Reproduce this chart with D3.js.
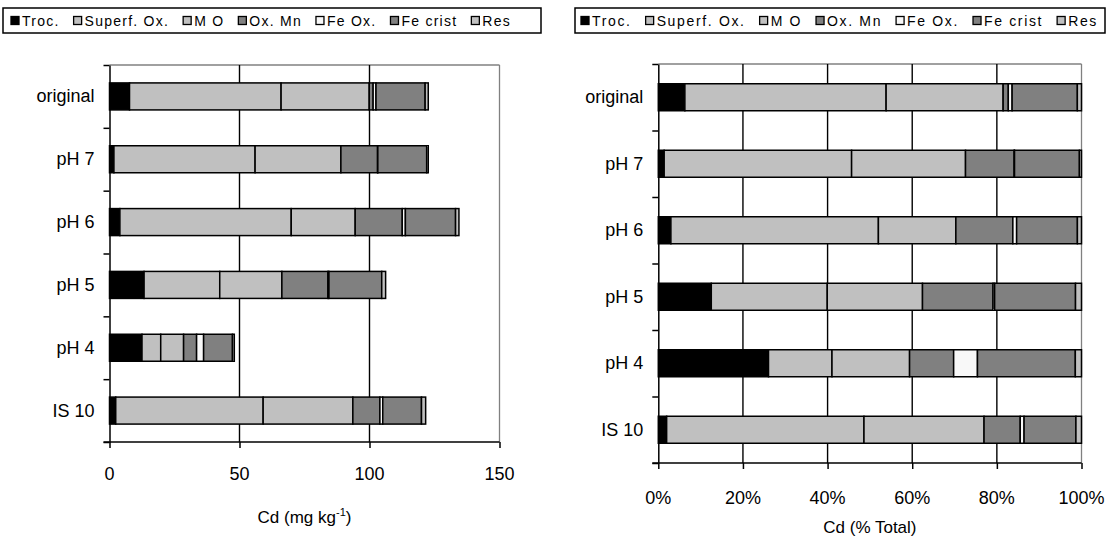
<!DOCTYPE html>
<html>
<head>
<meta charset="utf-8">
<script src="https://cdn.jsdelivr.net/npm/d3@7"></script>
<style>
  html, body { margin: 0; padding: 0; background: #fff; }
  svg { display: block; font-family: "Liberation Sans", Arial, sans-serif; }
</style>
</head>
<body>
<svg id="chart" width="1110" height="544"></svg>
<script>
// Cd fractionation by treatment (mg kg-1), one array per extraction step
const categories = ["original", "pH 7", "pH 6", "pH 5", "pH 4", "IS 10"];
const fractions  = ["Troc.", "Superf. Ox.", "M O", "Ox. Mn", "Fe Ox.", "Fe crist", "Res"];
const troc      = [7.7, 1.7, 4.0, 13.3, 12.5, 2.4];
const superfOx  = [58.3, 54.3, 65.9, 29.1, 7.2, 56.7];
const mo        = [33.9, 33.0, 24.6, 23.9, 8.8, 34.5];
const oxMn      = [1.5, 14.1, 18.1, 17.7, 5.0, 10.4];
const feOx      = [1.1, 0.1, 1.2, 0.4, 2.7, 1.1];
const feCrist   = [18.9, 18.8, 19.3, 20.3, 11.1, 14.9];
const res       = [1.2, 0.6, 1.3, 1.5, 0.7, 1.6];
const mgTicks   = [0, 50, 100, 150];
const pctTicks  = [0, 0.2, 0.4, 0.6, 0.8, 1.0];

const series = [troc, superfOx, mo, oxMn, feOx, feCrist, res];
const fills = ["#000000", "#c0c0c0", "#c0c0c0", "#808080", "#f8f8f8", "#808080", "#c0c0c0"];

const rows = categories.map((c, i) => {
  const r = { cat: c };
  fractions.forEach((f, k) => { r[f] = series[k][i]; });
  return r;
});

const svg = d3.select("#chart");

// Horizontal legend: entries laid out in a row, letter spacing chosen so the
// row runs from startX to endX.
function legend(x, y, w, h, startX, endX) {
  const g = svg.append("g");
  g.append("rect").attr("x", x).attr("y", y).attr("width", w).attr("height", h)
    .attr("fill", "#fff").attr("stroke", "#000").attr("stroke-width", 1.5);
  const sw = 8, swGap = 3, itemGap = 14;
  const texts = fractions.map(f => g.append("text")
    .attr("y", y + h / 2 + 5).attr("font-size", 14).attr("fill", "#000").text(f));
  const nat = texts.map(t => t.node().getComputedTextLength());
  const chars = fractions.reduce((s, f) => s + f.length, 0);
  const fixed = d3.sum(nat) + fractions.length * (sw + swGap) + (fractions.length - 1) * itemGap;
  const ls = Math.max(0, (endX - startX - fixed) / chars);
  let cx = startX;
  fractions.forEach((f, k) => {
    g.append("rect").attr("x", cx).attr("y", y + h / 2 - 4)
      .attr("width", sw).attr("height", sw)
      .attr("fill", fills[k]).attr("stroke", "#000").attr("stroke-width", 1.3);
    texts[k].attr("x", cx + sw + swGap).attr("letter-spacing", ls);
    cx += sw + swGap + nat[k] + f.length * ls + itemGap;
  });
}

function panel(opt) {
  const { x0, x1, top, bottom, domain, ticks, fmt, grid, offset, labelY } = opt;
  const layers = d3.stack().keys(fractions).offset(offset)(rows);

  const x = d3.scaleLinear().domain(domain).range([x0, x1]);
  const yEdge = d3.scaleLinear().domain([0, categories.length]).range([top, bottom]);
  const pad = 1 - 27 / ((bottom - top) / categories.length);
  const y = d3.scaleBand().domain(categories).range([top, bottom])
    .paddingInner(pad).paddingOuter(pad / 2);

  const g = svg.append("g");

  // plot frame (top and right edges)
  g.append("line").attr("x1", x0).attr("x2", x1).attr("y1", top).attr("y2", top)
    .attr("stroke", "#808080").attr("stroke-width", 1.3);
  g.append("line").attr("x1", x1).attr("x2", x1).attr("y1", top).attr("y2", bottom)
    .attr("stroke", "#808080").attr("stroke-width", 1.3);

  // vertical gridlines
  g.selectAll(".grid").data(grid).join("line")
    .attr("x1", d => x(d)).attr("x2", d => x(d))
    .attr("y1", top).attr("y2", bottom)
    .attr("stroke", "#000").attr("stroke-width", 1.4);

  // stacked bars
  layers.forEach((layer, k) => {
    g.append("g").selectAll("rect").data(layer).join("rect")
      .attr("x", d => x(d[0]))
      .attr("width", d => Math.max(0, x(d[1]) - x(d[0])))
      .attr("y", d => y(d.data.cat))
      .attr("height", y.bandwidth())
      .attr("fill", fills[k])
      .attr("stroke", "#000").attr("stroke-width", 1.5);
  });

  // category axis
  const yAxis = d3.axisLeft(yEdge).tickValues(d3.range(categories.length + 1))
    .tickFormat("").tickSize(6).tickSizeOuter(0);
  const ya = g.append("g").attr("transform", `translate(${x0},0)`).call(yAxis);
  ya.selectAll("path, line").attr("stroke", "#000").attr("stroke-width", 1.5);

  g.selectAll(".cat").data(categories).join("text")
    .attr("x", x0 - 15).attr("y", d => y(d) + y.bandwidth() / 2 + 6)
    .attr("text-anchor", "end").attr("font-size", 18).attr("fill", "#000").text(d => d);

  // value axis
  const xAxis = d3.axisBottom(x).tickValues(ticks).tickFormat("").tickSize(6).tickSizeOuter(0);
  const xa = g.append("g").attr("transform", `translate(0,${bottom})`).call(xAxis);
  xa.select(".domain").remove();
  xa.selectAll("line").attr("stroke", "#000").attr("stroke-width", 1.5);
  g.append("line").attr("x1", x0 - 6).attr("x2", x1).attr("y1", bottom).attr("y2", bottom)
    .attr("stroke", "#000").attr("stroke-width", 1.5);

  g.selectAll(".tl").data(ticks).join("text")
    .attr("x", d => x(d)).attr("y", labelY)
    .attr("text-anchor", "middle").attr("font-size", 18).attr("fill", "#000").text(fmt);

  return { g, cx: (x0 + x1) / 2 };
}

legend(3, 8, 538, 25, 11, 511);
legend(575, 8, 530, 25, 581, 1098);

const left = panel({
  x0: 109.5, x1: 499.5, top: 65, bottom: 442,
  domain: [0, 150], ticks: mgTicks, fmt: d => d,
  grid: [50, 100], offset: d3.stackOffsetNone, labelY: 480
});
const lt = left.g.append("text").attr("x", left.cx).attr("y", 523)
  .attr("text-anchor", "middle").attr("font-size", 17).attr("fill", "#000");
lt.append("tspan").text("Cd (mg kg");
lt.append("tspan").attr("font-size", 11).attr("dy", -7).text("-1");
lt.append("tspan").attr("dy", 7).text(")");

const right = panel({
  x0: 658.3, x1: 1081.5, top: 64, bottom: 463,
  domain: [0, 1], ticks: pctTicks, fmt: d3.format(".0%"),
  grid: [0.2, 0.4, 0.6, 0.8], offset: d3.stackOffsetExpand, labelY: 504
});
right.g.append("text").attr("x", right.cx).attr("y", 533)
  .attr("text-anchor", "middle").attr("font-size", 17).attr("fill", "#000").text("Cd (% Total)");
</script>
</body>
</html>
